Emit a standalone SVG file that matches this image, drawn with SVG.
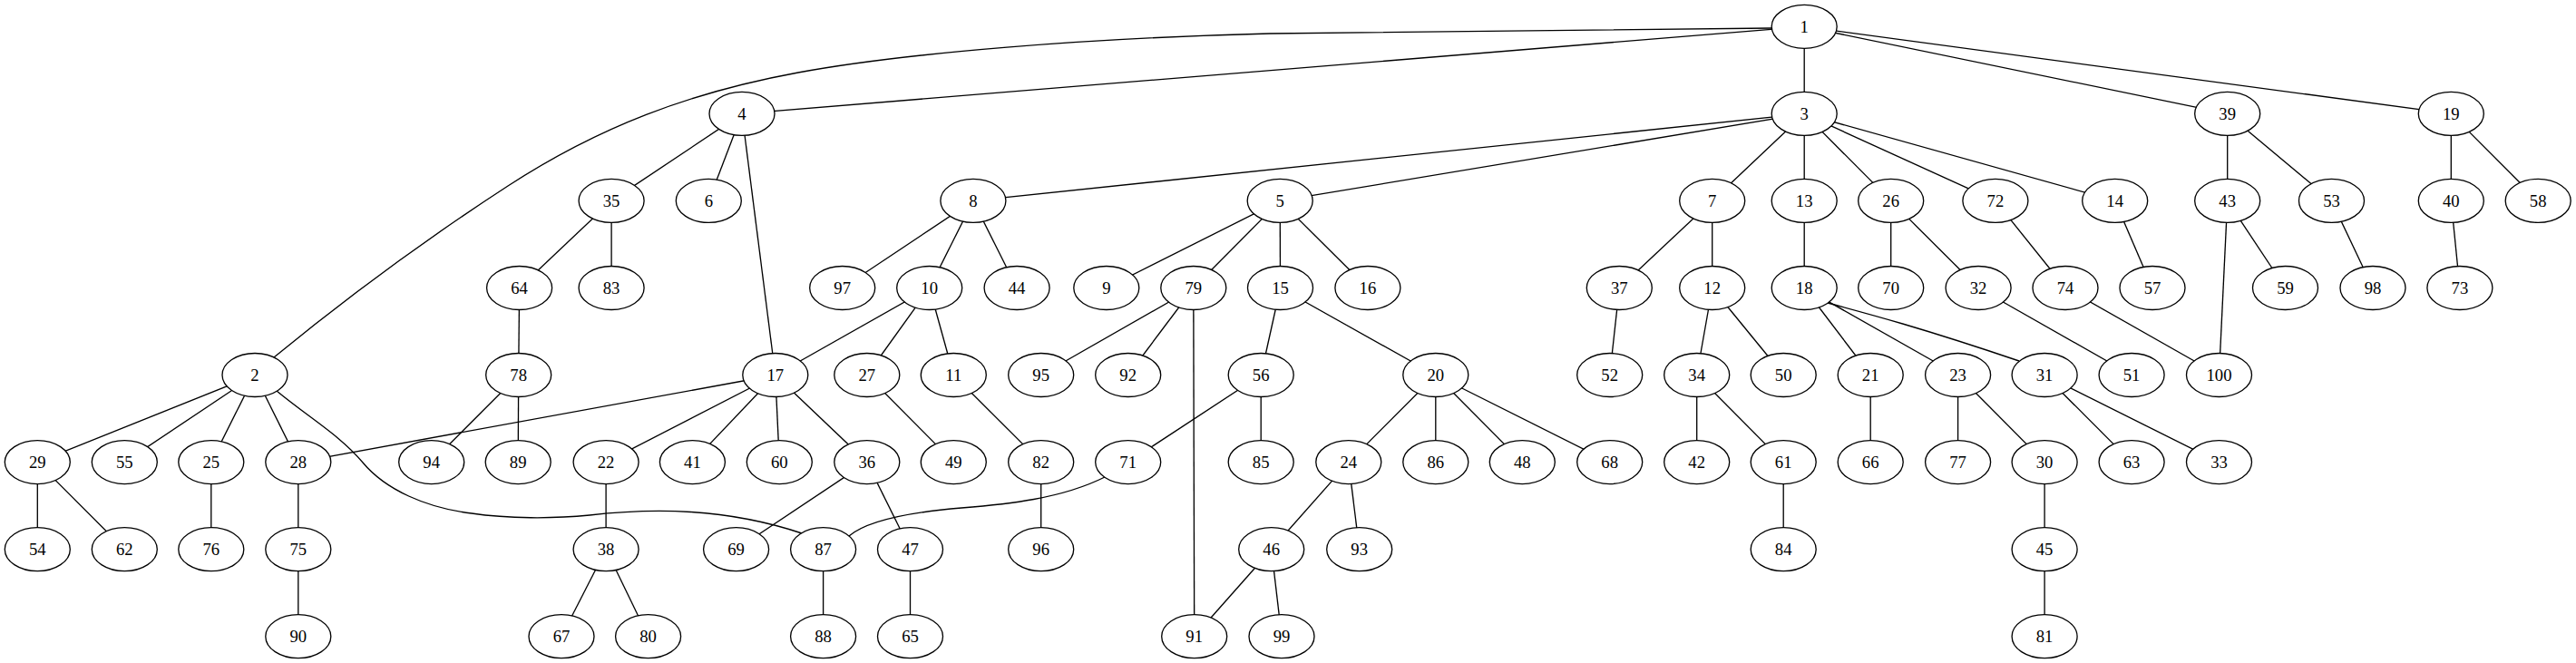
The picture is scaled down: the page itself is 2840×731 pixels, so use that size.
<svg xmlns="http://www.w3.org/2000/svg" width="2840" height="731" viewBox="0 0 2840 731">
<style>
.node ellipse{fill:#ffffff;stroke:#000000;stroke-width:1.33}
.node text{font-family:"Liberation Serif","Times New Roman",serif;font-size:18.67px;text-anchor:middle;fill:#000000}
#edges line,#edges path{stroke:#000000;stroke-width:1.33;fill:none}
</style>
<rect x="0" y="0" width="2840" height="731" fill="#ffffff"/>
<g id="edges">
<line x1="1989.2" y1="29.3" x2="818" y2="125.4"/>
<line x1="1989.2" y1="29.3" x2="1989.2" y2="125.4"/>
<line x1="1989.2" y1="29.3" x2="2455.7" y2="125.4"/>
<line x1="1989.2" y1="29.3" x2="2702.3" y2="125.4"/>
<path d="M1953,31 L1400,37 C1200,42 1000,58 880,80 C760,102 660,140 560,205 C460,270 380,330 302,394"/>
<line x1="818" y1="125.4" x2="674.1" y2="221.4"/>
<line x1="818" y1="125.4" x2="781.3" y2="221.4"/>
<line x1="818" y1="125.4" x2="854.8" y2="413.5"/>
<line x1="674.1" y1="221.4" x2="572.6" y2="317.5"/>
<line x1="674.1" y1="221.4" x2="674.1" y2="317.5"/>
<line x1="572.6" y1="317.5" x2="571.7" y2="413.5"/>
<line x1="571.7" y1="413.5" x2="475.7" y2="509.6"/>
<line x1="571.7" y1="413.5" x2="571.2" y2="509.6"/>
<line x1="1989.2" y1="125.4" x2="1072.9" y2="221.4"/>
<line x1="1989.2" y1="125.4" x2="1411.2" y2="221.4"/>
<line x1="1989.2" y1="125.4" x2="1887.7" y2="221.4"/>
<line x1="1989.2" y1="125.4" x2="1989.2" y2="221.4"/>
<line x1="1989.2" y1="125.4" x2="2084.7" y2="221.4"/>
<line x1="1989.2" y1="125.4" x2="2199.9" y2="221.4"/>
<line x1="1989.2" y1="125.4" x2="2331.7" y2="221.4"/>
<line x1="1072.9" y1="221.4" x2="928.7" y2="317.5"/>
<line x1="1072.9" y1="221.4" x2="1024.7" y2="317.5"/>
<line x1="1072.9" y1="221.4" x2="1121.1" y2="317.5"/>
<line x1="1024.7" y1="317.5" x2="854.8" y2="413.5"/>
<line x1="1024.7" y1="317.5" x2="955.8" y2="413.5"/>
<line x1="1024.7" y1="317.5" x2="1051.3" y2="413.5"/>
<line x1="1411.2" y1="221.4" x2="1219.8" y2="317.5"/>
<line x1="1411.2" y1="221.4" x2="1315.8" y2="317.5"/>
<line x1="1411.2" y1="221.4" x2="1411.5" y2="317.5"/>
<line x1="1411.2" y1="221.4" x2="1507.9" y2="317.5"/>
<line x1="1315.8" y1="317.5" x2="1147.7" y2="413.5"/>
<line x1="1315.8" y1="317.5" x2="1243.7" y2="413.5"/>
<line x1="1315.8" y1="317.5" x2="1316.7" y2="701.7"/>
<line x1="1411.5" y1="317.5" x2="1390.2" y2="413.5"/>
<line x1="1411.5" y1="317.5" x2="1582.8" y2="413.5"/>
<line x1="1887.7" y1="221.4" x2="1785.3" y2="317.5"/>
<line x1="1887.7" y1="221.4" x2="1887.7" y2="317.5"/>
<line x1="1989.2" y1="221.4" x2="1989.2" y2="317.5"/>
<line x1="2084.7" y1="221.4" x2="2084.7" y2="317.5"/>
<line x1="2084.7" y1="221.4" x2="2181.1" y2="317.5"/>
<line x1="2199.9" y1="221.4" x2="2277" y2="317.5"/>
<line x1="2331.7" y1="221.4" x2="2373" y2="317.5"/>
<line x1="2455.7" y1="125.4" x2="2455.7" y2="221.4"/>
<line x1="2455.7" y1="125.4" x2="2570.5" y2="221.4"/>
<line x1="2702.3" y1="125.4" x2="2702.3" y2="221.4"/>
<line x1="2702.3" y1="125.4" x2="2798.2" y2="221.4"/>
<line x1="2455.7" y1="221.4" x2="2446.5" y2="413.5"/>
<line x1="2455.7" y1="221.4" x2="2519.5" y2="317.5"/>
<line x1="2570.5" y1="221.4" x2="2616" y2="317.5"/>
<line x1="2702.3" y1="221.4" x2="2711.9" y2="317.5"/>
<line x1="1785.3" y1="317.5" x2="1774.7" y2="413.5"/>
<line x1="1887.7" y1="317.5" x2="1870.7" y2="413.5"/>
<line x1="1887.7" y1="317.5" x2="1966.2" y2="413.5"/>
<line x1="1989.2" y1="317.5" x2="2062.2" y2="413.5"/>
<line x1="1989.2" y1="317.5" x2="2158.6" y2="413.5"/>
<path d="M2015,334 C2060,346 2120,362 2226,398"/>
<line x1="2181.1" y1="317.5" x2="2350.1" y2="413.5"/>
<line x1="2277" y1="317.5" x2="2446.5" y2="413.5"/>
<line x1="281" y1="413.5" x2="41.3" y2="509.6"/>
<line x1="281" y1="413.5" x2="137.3" y2="509.6"/>
<line x1="281" y1="413.5" x2="232.8" y2="509.6"/>
<line x1="281" y1="413.5" x2="328.8" y2="509.6"/>
<path d="M305,431 C340,460 375,480 400,510 C425,540 470,560 520,566 C560,572 610,572 650,568 C720,560 800,560 884,588"/>
<line x1="854.8" y1="413.5" x2="328.8" y2="509.6"/>
<line x1="854.8" y1="413.5" x2="668.1" y2="509.6"/>
<line x1="854.8" y1="413.5" x2="763.4" y2="509.6"/>
<line x1="854.8" y1="413.5" x2="859.3" y2="509.6"/>
<line x1="854.8" y1="413.5" x2="955.8" y2="509.6"/>
<line x1="955.8" y1="413.5" x2="1051.3" y2="509.6"/>
<line x1="1051.3" y1="413.5" x2="1147.7" y2="509.6"/>
<line x1="1390.2" y1="413.5" x2="1243.7" y2="509.6"/>
<line x1="1390.2" y1="413.5" x2="1390.2" y2="509.6"/>
<line x1="1582.8" y1="413.5" x2="1486.8" y2="509.6"/>
<line x1="1582.8" y1="413.5" x2="1582.8" y2="509.6"/>
<line x1="1582.8" y1="413.5" x2="1678.3" y2="509.6"/>
<line x1="1582.8" y1="413.5" x2="1774.7" y2="509.6"/>
<line x1="1870.7" y1="413.5" x2="1870.7" y2="509.6"/>
<line x1="1870.7" y1="413.5" x2="1966.2" y2="509.6"/>
<line x1="2062.2" y1="413.5" x2="2062.2" y2="509.6"/>
<line x1="2158.6" y1="413.5" x2="2158.6" y2="509.6"/>
<line x1="2158.6" y1="413.5" x2="2254.1" y2="509.6"/>
<line x1="2254.1" y1="413.5" x2="2350.1" y2="509.6"/>
<line x1="2254.1" y1="413.5" x2="2446.5" y2="509.6"/>
<line x1="41.3" y1="509.6" x2="41.3" y2="605.7"/>
<line x1="41.3" y1="509.6" x2="137.3" y2="605.7"/>
<line x1="232.8" y1="509.6" x2="232.8" y2="605.7"/>
<line x1="328.8" y1="509.6" x2="328.8" y2="605.7"/>
<line x1="668.1" y1="509.6" x2="668.1" y2="605.7"/>
<line x1="955.8" y1="509.6" x2="811.6" y2="605.7"/>
<line x1="955.8" y1="509.6" x2="1003.5" y2="605.7"/>
<line x1="1147.7" y1="509.6" x2="1147.7" y2="605.7"/>
<path d="M1218,526 C1170,550 1110,556 1060,560 C1000,565 955,575 936,591"/>
<line x1="1486.8" y1="509.6" x2="1401.7" y2="605.7"/>
<line x1="1486.8" y1="509.6" x2="1498.7" y2="605.7"/>
<line x1="1966.2" y1="509.6" x2="1966.2" y2="605.7"/>
<line x1="2254.1" y1="509.6" x2="2254.1" y2="605.7"/>
<line x1="328.8" y1="605.7" x2="328.8" y2="701.7"/>
<line x1="668.1" y1="605.7" x2="619" y2="701.7"/>
<line x1="668.1" y1="605.7" x2="714.6" y2="701.7"/>
<line x1="907.6" y1="605.7" x2="907.6" y2="701.7"/>
<line x1="1003.5" y1="605.7" x2="1003.5" y2="701.7"/>
<line x1="1401.7" y1="605.7" x2="1316.7" y2="701.7"/>
<line x1="1401.7" y1="605.7" x2="1413" y2="701.7"/>
<line x1="2254.1" y1="605.7" x2="2254.1" y2="701.7"/>
</g>
<g id="nodes">
<g id="n1" class="node"><ellipse cx="1989.2" cy="29.3" rx="36" ry="24"/><text x="1989.2" y="35.5">1</text></g>
<g id="n4" class="node"><ellipse cx="818" cy="125.4" rx="36" ry="24"/><text x="818" y="131.6">4</text></g>
<g id="n3" class="node"><ellipse cx="1989.2" cy="125.4" rx="36" ry="24"/><text x="1989.2" y="131.6">3</text></g>
<g id="n39" class="node"><ellipse cx="2455.7" cy="125.4" rx="36" ry="24"/><text x="2455.7" y="131.6">39</text></g>
<g id="n19" class="node"><ellipse cx="2702.3" cy="125.4" rx="36" ry="24"/><text x="2702.3" y="131.6">19</text></g>
<g id="n35" class="node"><ellipse cx="674.1" cy="221.4" rx="36" ry="24"/><text x="674.1" y="227.6">35</text></g>
<g id="n6" class="node"><ellipse cx="781.3" cy="221.4" rx="36" ry="24"/><text x="781.3" y="227.6">6</text></g>
<g id="n8" class="node"><ellipse cx="1072.9" cy="221.4" rx="36" ry="24"/><text x="1072.9" y="227.6">8</text></g>
<g id="n5" class="node"><ellipse cx="1411.2" cy="221.4" rx="36" ry="24"/><text x="1411.2" y="227.6">5</text></g>
<g id="n7" class="node"><ellipse cx="1887.7" cy="221.4" rx="36" ry="24"/><text x="1887.7" y="227.6">7</text></g>
<g id="n13" class="node"><ellipse cx="1989.2" cy="221.4" rx="36" ry="24"/><text x="1989.2" y="227.6">13</text></g>
<g id="n26" class="node"><ellipse cx="2084.7" cy="221.4" rx="36" ry="24"/><text x="2084.7" y="227.6">26</text></g>
<g id="n72" class="node"><ellipse cx="2199.9" cy="221.4" rx="36" ry="24"/><text x="2199.9" y="227.6">72</text></g>
<g id="n14" class="node"><ellipse cx="2331.7" cy="221.4" rx="36" ry="24"/><text x="2331.7" y="227.6">14</text></g>
<g id="n43" class="node"><ellipse cx="2455.7" cy="221.4" rx="36" ry="24"/><text x="2455.7" y="227.6">43</text></g>
<g id="n53" class="node"><ellipse cx="2570.5" cy="221.4" rx="36" ry="24"/><text x="2570.5" y="227.6">53</text></g>
<g id="n40" class="node"><ellipse cx="2702.3" cy="221.4" rx="36" ry="24"/><text x="2702.3" y="227.6">40</text></g>
<g id="n58" class="node"><ellipse cx="2798.2" cy="221.4" rx="36" ry="24"/><text x="2798.2" y="227.6">58</text></g>
<g id="n64" class="node"><ellipse cx="572.6" cy="317.5" rx="36" ry="24"/><text x="572.6" y="323.7">64</text></g>
<g id="n83" class="node"><ellipse cx="674.1" cy="317.5" rx="36" ry="24"/><text x="674.1" y="323.7">83</text></g>
<g id="n97" class="node"><ellipse cx="928.7" cy="317.5" rx="36" ry="24"/><text x="928.7" y="323.7">97</text></g>
<g id="n10" class="node"><ellipse cx="1024.7" cy="317.5" rx="36" ry="24"/><text x="1024.7" y="323.7">10</text></g>
<g id="n44" class="node"><ellipse cx="1121.1" cy="317.5" rx="36" ry="24"/><text x="1121.1" y="323.7">44</text></g>
<g id="n9" class="node"><ellipse cx="1219.8" cy="317.5" rx="36" ry="24"/><text x="1219.8" y="323.7">9</text></g>
<g id="n79" class="node"><ellipse cx="1315.8" cy="317.5" rx="36" ry="24"/><text x="1315.8" y="323.7">79</text></g>
<g id="n15" class="node"><ellipse cx="1411.5" cy="317.5" rx="36" ry="24"/><text x="1411.5" y="323.7">15</text></g>
<g id="n16" class="node"><ellipse cx="1507.9" cy="317.5" rx="36" ry="24"/><text x="1507.9" y="323.7">16</text></g>
<g id="n37" class="node"><ellipse cx="1785.3" cy="317.5" rx="36" ry="24"/><text x="1785.3" y="323.7">37</text></g>
<g id="n12" class="node"><ellipse cx="1887.7" cy="317.5" rx="36" ry="24"/><text x="1887.7" y="323.7">12</text></g>
<g id="n18" class="node"><ellipse cx="1989.2" cy="317.5" rx="36" ry="24"/><text x="1989.2" y="323.7">18</text></g>
<g id="n70" class="node"><ellipse cx="2084.7" cy="317.5" rx="36" ry="24"/><text x="2084.7" y="323.7">70</text></g>
<g id="n32" class="node"><ellipse cx="2181.1" cy="317.5" rx="36" ry="24"/><text x="2181.1" y="323.7">32</text></g>
<g id="n74" class="node"><ellipse cx="2277" cy="317.5" rx="36" ry="24"/><text x="2277" y="323.7">74</text></g>
<g id="n57" class="node"><ellipse cx="2373" cy="317.5" rx="36" ry="24"/><text x="2373" y="323.7">57</text></g>
<g id="n59" class="node"><ellipse cx="2519.5" cy="317.5" rx="36" ry="24"/><text x="2519.5" y="323.7">59</text></g>
<g id="n98" class="node"><ellipse cx="2616" cy="317.5" rx="36" ry="24"/><text x="2616" y="323.7">98</text></g>
<g id="n73" class="node"><ellipse cx="2711.9" cy="317.5" rx="36" ry="24"/><text x="2711.9" y="323.7">73</text></g>
<g id="n2" class="node"><ellipse cx="281" cy="413.5" rx="36" ry="24"/><text x="281" y="419.7">2</text></g>
<g id="n78" class="node"><ellipse cx="571.7" cy="413.5" rx="36" ry="24"/><text x="571.7" y="419.7">78</text></g>
<g id="n17" class="node"><ellipse cx="854.8" cy="413.5" rx="36" ry="24"/><text x="854.8" y="419.7">17</text></g>
<g id="n27" class="node"><ellipse cx="955.8" cy="413.5" rx="36" ry="24"/><text x="955.8" y="419.7">27</text></g>
<g id="n11" class="node"><ellipse cx="1051.3" cy="413.5" rx="36" ry="24"/><text x="1051.3" y="419.7">11</text></g>
<g id="n95" class="node"><ellipse cx="1147.7" cy="413.5" rx="36" ry="24"/><text x="1147.7" y="419.7">95</text></g>
<g id="n92" class="node"><ellipse cx="1243.7" cy="413.5" rx="36" ry="24"/><text x="1243.7" y="419.7">92</text></g>
<g id="n56" class="node"><ellipse cx="1390.2" cy="413.5" rx="36" ry="24"/><text x="1390.2" y="419.7">56</text></g>
<g id="n20" class="node"><ellipse cx="1582.8" cy="413.5" rx="36" ry="24"/><text x="1582.8" y="419.7">20</text></g>
<g id="n52" class="node"><ellipse cx="1774.7" cy="413.5" rx="36" ry="24"/><text x="1774.7" y="419.7">52</text></g>
<g id="n34" class="node"><ellipse cx="1870.7" cy="413.5" rx="36" ry="24"/><text x="1870.7" y="419.7">34</text></g>
<g id="n50" class="node"><ellipse cx="1966.2" cy="413.5" rx="36" ry="24"/><text x="1966.2" y="419.7">50</text></g>
<g id="n21" class="node"><ellipse cx="2062.2" cy="413.5" rx="36" ry="24"/><text x="2062.2" y="419.7">21</text></g>
<g id="n23" class="node"><ellipse cx="2158.6" cy="413.5" rx="36" ry="24"/><text x="2158.6" y="419.7">23</text></g>
<g id="n31" class="node"><ellipse cx="2254.1" cy="413.5" rx="36" ry="24"/><text x="2254.1" y="419.7">31</text></g>
<g id="n51" class="node"><ellipse cx="2350.1" cy="413.5" rx="36" ry="24"/><text x="2350.1" y="419.7">51</text></g>
<g id="n100" class="node"><ellipse cx="2446.5" cy="413.5" rx="36" ry="24"/><text x="2446.5" y="419.7">100</text></g>
<g id="n29" class="node"><ellipse cx="41.3" cy="509.6" rx="36" ry="24"/><text x="41.3" y="515.8">29</text></g>
<g id="n55" class="node"><ellipse cx="137.3" cy="509.6" rx="36" ry="24"/><text x="137.3" y="515.8">55</text></g>
<g id="n25" class="node"><ellipse cx="232.8" cy="509.6" rx="36" ry="24"/><text x="232.8" y="515.8">25</text></g>
<g id="n28" class="node"><ellipse cx="328.8" cy="509.6" rx="36" ry="24"/><text x="328.8" y="515.8">28</text></g>
<g id="n94" class="node"><ellipse cx="475.7" cy="509.6" rx="36" ry="24"/><text x="475.7" y="515.8">94</text></g>
<g id="n89" class="node"><ellipse cx="571.2" cy="509.6" rx="36" ry="24"/><text x="571.2" y="515.8">89</text></g>
<g id="n22" class="node"><ellipse cx="668.1" cy="509.6" rx="36" ry="24"/><text x="668.1" y="515.8">22</text></g>
<g id="n41" class="node"><ellipse cx="763.4" cy="509.6" rx="36" ry="24"/><text x="763.4" y="515.8">41</text></g>
<g id="n60" class="node"><ellipse cx="859.3" cy="509.6" rx="36" ry="24"/><text x="859.3" y="515.8">60</text></g>
<g id="n36" class="node"><ellipse cx="955.8" cy="509.6" rx="36" ry="24"/><text x="955.8" y="515.8">36</text></g>
<g id="n49" class="node"><ellipse cx="1051.3" cy="509.6" rx="36" ry="24"/><text x="1051.3" y="515.8">49</text></g>
<g id="n82" class="node"><ellipse cx="1147.7" cy="509.6" rx="36" ry="24"/><text x="1147.7" y="515.8">82</text></g>
<g id="n71" class="node"><ellipse cx="1243.7" cy="509.6" rx="36" ry="24"/><text x="1243.7" y="515.8">71</text></g>
<g id="n85" class="node"><ellipse cx="1390.2" cy="509.6" rx="36" ry="24"/><text x="1390.2" y="515.8">85</text></g>
<g id="n24" class="node"><ellipse cx="1486.8" cy="509.6" rx="36" ry="24"/><text x="1486.8" y="515.8">24</text></g>
<g id="n86" class="node"><ellipse cx="1582.8" cy="509.6" rx="36" ry="24"/><text x="1582.8" y="515.8">86</text></g>
<g id="n48" class="node"><ellipse cx="1678.3" cy="509.6" rx="36" ry="24"/><text x="1678.3" y="515.8">48</text></g>
<g id="n68" class="node"><ellipse cx="1774.7" cy="509.6" rx="36" ry="24"/><text x="1774.7" y="515.8">68</text></g>
<g id="n42" class="node"><ellipse cx="1870.7" cy="509.6" rx="36" ry="24"/><text x="1870.7" y="515.8">42</text></g>
<g id="n61" class="node"><ellipse cx="1966.2" cy="509.6" rx="36" ry="24"/><text x="1966.2" y="515.8">61</text></g>
<g id="n66" class="node"><ellipse cx="2062.2" cy="509.6" rx="36" ry="24"/><text x="2062.2" y="515.8">66</text></g>
<g id="n77" class="node"><ellipse cx="2158.6" cy="509.6" rx="36" ry="24"/><text x="2158.6" y="515.8">77</text></g>
<g id="n30" class="node"><ellipse cx="2254.1" cy="509.6" rx="36" ry="24"/><text x="2254.1" y="515.8">30</text></g>
<g id="n63" class="node"><ellipse cx="2350.1" cy="509.6" rx="36" ry="24"/><text x="2350.1" y="515.8">63</text></g>
<g id="n33" class="node"><ellipse cx="2446.5" cy="509.6" rx="36" ry="24"/><text x="2446.5" y="515.8">33</text></g>
<g id="n54" class="node"><ellipse cx="41.3" cy="605.7" rx="36" ry="24"/><text x="41.3" y="611.9">54</text></g>
<g id="n62" class="node"><ellipse cx="137.3" cy="605.7" rx="36" ry="24"/><text x="137.3" y="611.9">62</text></g>
<g id="n76" class="node"><ellipse cx="232.8" cy="605.7" rx="36" ry="24"/><text x="232.8" y="611.9">76</text></g>
<g id="n75" class="node"><ellipse cx="328.8" cy="605.7" rx="36" ry="24"/><text x="328.8" y="611.9">75</text></g>
<g id="n38" class="node"><ellipse cx="668.1" cy="605.7" rx="36" ry="24"/><text x="668.1" y="611.9">38</text></g>
<g id="n69" class="node"><ellipse cx="811.6" cy="605.7" rx="36" ry="24"/><text x="811.6" y="611.9">69</text></g>
<g id="n87" class="node"><ellipse cx="907.6" cy="605.7" rx="36" ry="24"/><text x="907.6" y="611.9">87</text></g>
<g id="n47" class="node"><ellipse cx="1003.5" cy="605.7" rx="36" ry="24"/><text x="1003.5" y="611.9">47</text></g>
<g id="n96" class="node"><ellipse cx="1147.7" cy="605.7" rx="36" ry="24"/><text x="1147.7" y="611.9">96</text></g>
<g id="n46" class="node"><ellipse cx="1401.7" cy="605.7" rx="36" ry="24"/><text x="1401.7" y="611.9">46</text></g>
<g id="n93" class="node"><ellipse cx="1498.7" cy="605.7" rx="36" ry="24"/><text x="1498.7" y="611.9">93</text></g>
<g id="n84" class="node"><ellipse cx="1966.2" cy="605.7" rx="36" ry="24"/><text x="1966.2" y="611.9">84</text></g>
<g id="n45" class="node"><ellipse cx="2254.1" cy="605.7" rx="36" ry="24"/><text x="2254.1" y="611.9">45</text></g>
<g id="n90" class="node"><ellipse cx="328.8" cy="701.7" rx="36" ry="24"/><text x="328.8" y="707.9">90</text></g>
<g id="n67" class="node"><ellipse cx="619" cy="701.7" rx="36" ry="24"/><text x="619" y="707.9">67</text></g>
<g id="n80" class="node"><ellipse cx="714.6" cy="701.7" rx="36" ry="24"/><text x="714.6" y="707.9">80</text></g>
<g id="n88" class="node"><ellipse cx="907.6" cy="701.7" rx="36" ry="24"/><text x="907.6" y="707.9">88</text></g>
<g id="n65" class="node"><ellipse cx="1003.5" cy="701.7" rx="36" ry="24"/><text x="1003.5" y="707.9">65</text></g>
<g id="n91" class="node"><ellipse cx="1316.7" cy="701.7" rx="36" ry="24"/><text x="1316.7" y="707.9">91</text></g>
<g id="n99" class="node"><ellipse cx="1413" cy="701.7" rx="36" ry="24"/><text x="1413" y="707.9">99</text></g>
<g id="n81" class="node"><ellipse cx="2254.1" cy="701.7" rx="36" ry="24"/><text x="2254.1" y="707.9">81</text></g>
</g>
</svg>
